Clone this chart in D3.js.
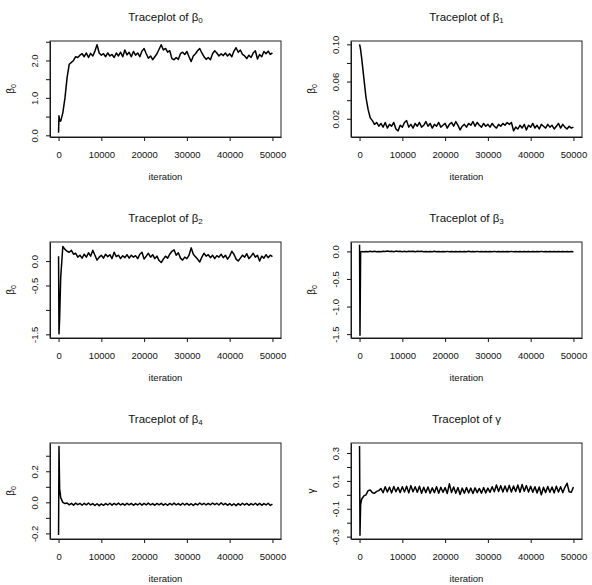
<!DOCTYPE html>
<html>
<head>
<meta charset="utf-8">
<script src="https://cdn.jsdelivr.net/npm/d3@7"></script>
<style>
body { margin: 0; background: #fff; }
svg { display: block; font-family: 'Liberation Sans', Arial, Helvetica, sans-serif; }
</style>
</head>
<body>
<svg id="chart" width="592" height="585"></svg>
<script>
// MCMC iteration index, coarse grid.
var iterations = [0, 100, 250,
    500, 1000, 1500, 2000, 2500, 3000, 3500, 4000, 4500, 5000,
    5500, 6000, 6500, 7000, 7500, 8000, 8500, 9000, 9500, 10000,
    10500, 11000, 11500, 12000, 12500, 13000, 13500, 14000, 14500, 15000,
    15500, 16000, 16500, 17000, 17500, 18000, 18500, 19000, 19500, 20000,
    20500, 21000, 21500, 22000, 22500, 23000, 23500, 24000, 24500, 25000,
    25500, 26000, 26500, 27000, 27500, 28000, 28500, 29000, 29500, 30000,
    30500, 31000, 31500, 32000, 32500, 33000, 33500, 34000, 34500, 35000,
    35500, 36000, 36500, 37000, 37500, 38000, 38500, 39000, 39500, 40000,
    40500, 41000, 41500, 42000, 42500, 43000, 43500, 44000, 44500, 45000,
    45500, 46000, 46500, 47000, 47500, 48000, 48500, 49000, 49500, 50000];

var beta0 = [0.07, 0.52, 0.40,
    0.38, 0.60, 1.00, 1.55, 1.90, 1.95, 2.00, 2.10, 2.08, 2.14,
    2.18, 2.10, 2.20, 2.08, 2.19, 2.12, 2.25, 2.42, 2.20, 2.14,
    2.18, 2.10, 2.20, 2.12, 2.16, 2.08, 2.20, 2.12, 2.22, 2.10,
    2.28, 2.15, 2.22, 2.10, 2.24, 2.14, 2.20, 2.10, 2.25, 2.32,
    2.18, 2.06, 2.12, 2.02, 2.10, 2.18, 2.30, 2.42, 2.28, 2.32,
    2.22, 2.26, 2.05, 2.02, 2.08, 2.03, 2.18, 2.22, 2.16, 2.24,
    2.10, 1.97, 2.12, 2.18, 2.26, 2.32, 2.20, 2.10, 2.03, 2.08,
    2.02, 2.18, 2.26, 2.20, 2.12, 2.18, 2.13, 2.20, 2.12, 2.18,
    2.10, 2.25, 2.34, 2.22, 2.28, 2.16, 2.12, 2.05, 2.14, 2.08,
    2.20, 2.26, 2.04, 2.16, 2.10, 2.24, 2.18, 2.25, 2.16, 2.20];

var beta1 = [0.100, 0.098, 0.094,
    0.085, 0.064, 0.043, 0.030, 0.021, 0.018, 0.014, 0.016, 0.012, 0.015,
    0.011, 0.016, 0.010, 0.014, 0.012, 0.016, 0.009, 0.007, 0.013, 0.011,
    0.016, 0.018, 0.011, 0.014, 0.010, 0.015, 0.012, 0.016, 0.011, 0.013,
    0.017, 0.012, 0.015, 0.010, 0.014, 0.012, 0.016, 0.011, 0.013, 0.015,
    0.010, 0.014, 0.016, 0.012, 0.017, 0.013, 0.008, 0.012, 0.014, 0.011,
    0.015, 0.013, 0.017, 0.012, 0.016, 0.013, 0.011, 0.015, 0.012, 0.014,
    0.011, 0.015, 0.012, 0.010, 0.014, 0.012, 0.015, 0.013, 0.016, 0.014,
    0.016, 0.007, 0.011, 0.009, 0.013, 0.010, 0.014, 0.008, 0.013, 0.011,
    0.015, 0.010, 0.013, 0.009, 0.014, 0.012, 0.010, 0.014, 0.011, 0.013,
    0.009, 0.012, 0.015, 0.010, 0.014, 0.011, 0.009, 0.012, 0.010, 0.011];

var beta2 = [0.10, -1.49, -1.18,
    -0.34, 0.30, 0.24, 0.20, 0.18, 0.22, 0.14, 0.16, 0.08, 0.12,
    0.06, 0.14, 0.08, 0.17, 0.10, 0.22, 0.12, 0.02, 0.08, 0.12,
    0.06, 0.14, 0.09, 0.13, 0.05, 0.18, 0.09, 0.12, 0.05, 0.11,
    0.07, 0.13, 0.06, 0.12, 0.08, 0.11, 0.05, 0.14, 0.18, 0.04,
    0.10, 0.16, 0.08, 0.13, 0.05, 0.10, 0.01, -0.03, 0.04, 0.10,
    0.06, 0.14, 0.20, 0.23, 0.12, 0.17, 0.06, 0.02, 0.08, 0.05,
    0.12, 0.27, 0.14, 0.09, 0.04, -0.02, 0.08, 0.16, 0.10, 0.13,
    0.07, 0.12, 0.05, 0.11, 0.08, 0.14, 0.07, 0.12, 0.04, 0.10,
    0.20, 0.14, 0.04, 0.00, 0.06, 0.12, 0.08, 0.15, 0.05, 0.10,
    0.16, 0.08, 0.12, 0.00, 0.10, 0.06, 0.13, 0.07, 0.12, 0.09];

var beta3 = [0.12, -1.52, -0.01,
    -0.004, -0.008, -0.002, -0.006, 0.002, -0.005, 0.004, -0.006, -0.001, -0.007,
    0.003, -0.004, 0.006, -0.003, 0.002, -0.006, 0.005, -0.002, 0.004, -0.005,
    0.002, -0.006, 0.004, -0.003, 0.003, -0.007, 0.001, -0.004, 0.002, -0.006,
    -0.001, -0.007, -0.002, -0.005, 0.001, -0.006, -0.002, -0.008, -0.003, -0.006,
    0.000, -0.005, -0.002, -0.007, -0.001, -0.006, -0.003, -0.008, -0.002, -0.005,
    0.001, -0.006, -0.002, -0.007, 0.000, -0.005, -0.003, -0.008, -0.001, -0.006,
    -0.002, -0.007, 0.000, -0.005, -0.003, -0.008, -0.001, -0.006, -0.002, -0.007,
    0.000, -0.005, -0.002, -0.007, -0.001, -0.006, -0.003, -0.008, -0.002, -0.005,
    -0.001, -0.006, -0.003, -0.008, 0.000, -0.005, -0.002, -0.007, -0.003, -0.006,
    -0.002, -0.007, -0.001, -0.006, -0.003, -0.008, -0.002, -0.005, -0.003, -0.006];

var beta4 = [-0.21, 0.36, 0.09,
    0.030, 0.000, -0.008, -0.004, -0.016, -0.006, -0.018, -0.005, -0.015, -0.007,
    -0.019, -0.006, -0.016, -0.004, -0.017, -0.008, -0.020, -0.009, -0.021, -0.010,
    -0.019, -0.008, -0.017, -0.006, -0.018, -0.007, -0.016, -0.005, -0.017, -0.008,
    -0.018, -0.006, -0.016, -0.007, -0.019, -0.008, -0.017, -0.006, -0.018, -0.007,
    -0.016, -0.005, -0.017, -0.008, -0.019, -0.007, -0.016, -0.006, -0.018, -0.009,
    -0.019, -0.007, -0.017, -0.005, -0.016, -0.008, -0.018, -0.006, -0.017, -0.007,
    -0.018, -0.009, -0.020, -0.008, -0.017, -0.004, -0.015, -0.006, -0.017, -0.007,
    -0.016, -0.004, -0.015, -0.006, -0.017, -0.003, -0.016, -0.007, -0.019, -0.008,
    -0.020, -0.009, -0.021, -0.008, -0.018, -0.006, -0.017, -0.007, -0.019, -0.008,
    -0.017, -0.006, -0.018, -0.007, -0.019, -0.008, -0.017, -0.006, -0.020, -0.012];

var gamma = [0.35, -0.29, -0.07,
    -0.030, -0.008, 0.000, 0.030, 0.035, 0.015, 0.012, 0.025, 0.030, 0.045,
    0.015, 0.058, 0.020, 0.055, 0.014, 0.060, 0.022, 0.054, 0.016, 0.058,
    0.020, 0.062, 0.014, 0.066, 0.022, 0.058, 0.018, 0.062, 0.012, 0.054,
    0.016, 0.056, 0.012, 0.050, 0.016, 0.058, 0.012, 0.054, 0.018, 0.052,
    0.010, 0.079, 0.016, 0.056, 0.012, 0.052, 0.002, 0.048, 0.012, 0.052,
    0.014, 0.048, 0.010, 0.050, 0.016, 0.046, 0.012, 0.052, 0.014, 0.048,
    0.018, 0.058, 0.022, 0.070, 0.024, 0.066, 0.020, 0.064, 0.022, 0.068,
    0.020, 0.064, 0.024, 0.070, 0.018, 0.074, 0.026, 0.066, 0.020, 0.062,
    0.018, 0.058, 0.014, 0.056, 0.000, 0.054, 0.016, 0.060, 0.018, 0.056,
    0.014, 0.062, 0.020, 0.058, 0.016, 0.054, 0.083, 0.022, 0.018, 0.056];

var xTicks = [0, 10000, 20000, 30000, 40000, 50000];

// y limits as R drew them (data range plus 4%).
var beta0Range = [-0.045, 2.52];
var beta1Range = [0.0004, 0.1036];
var beta2Range = [-1.575, 0.39];
var beta3Range = [-1.57, 0.17];
var beta4Range = [-0.236, 0.382];
var gammaRange = [-0.317, 0.372];

// R skips labels that would overlap, so some ticks stay blank.
var beta0Ticks = [0, 0.5, 1, 1.5, 2, 2.5];
var beta0Labels = ['0.0', '', '1.0', '', '2.0', ''];
var beta1Ticks = [0.02, 0.04, 0.06, 0.08, 0.10];
var beta1Labels = ['0.02', '', '0.06', '', '0.10'];
var beta2Ticks = [-1.5, -1.0, -0.5, 0.0];
var beta2Labels = ['-1.5', '', '-0.5', '0.0'];
var beta3Ticks = [-1.5, -1.0, -0.5, 0.0];
var beta3Labels = ['-1.5', '-1.0', '-0.5', '0.0'];
var beta4Ticks = [-0.2, -0.1, 0, 0.1, 0.2, 0.3];
var beta4Labels = ['-0.2', '', '0.0', '', '0.2', ''];
var gammaTicks = [-0.3, -0.2, -0.1, 0, 0.1, 0.2, 0.3];
var gammaLabels = ['-0.3', '', '-0.1', '', '0.1', '', '0.3'];

var panels = [
    { sym: 'β', sub: '0', ysym: 'β', ysub: '0', values: beta0, range: beta0Range, ticks: beta0Ticks, labels: beta0Labels },
    { sym: 'β', sub: '1', ysym: 'β', ysub: '0', values: beta1, range: beta1Range, ticks: beta1Ticks, labels: beta1Labels },
    { sym: 'β', sub: '2', ysym: 'β', ysub: '0', values: beta2, range: beta2Range, ticks: beta2Ticks, labels: beta2Labels },
    { sym: 'β', sub: '3', ysym: 'β', ysub: '0', values: beta3, range: beta3Range, ticks: beta3Ticks, labels: beta3Labels },
    { sym: 'β', sub: '4', ysym: 'β', ysub: '0', values: beta4, range: beta4Range, ticks: beta4Ticks, labels: beta4Labels },
    { sym: 'γ', sub: '', ysym: 'γ', ysub: '', values: gamma, range: gammaRange, ticks: gammaTicks, labels: gammaLabels }
];

function TracePanel(svg, col, row, spec) {
    this.spec = spec;
    this.width = 231;
    this.height = 96;
    this.ink = '#111';

    this.g = svg.append('g')
        .attr('transform',
                'translate(' + (50 + col * 301) + ',' + (41 + row * 201) + ')');

    var ext = d3.extent(iterations);
    var pad = (ext[1] - ext[0]) * 0.04;
    this.x = d3.scaleLinear().domain([ext[0] - pad, ext[1] + pad]).range([0, this.width]);
    this.y = d3.scaleLinear().domain(spec.range).range([this.height, 0]);

    this._drawTrace();
    this._drawAxes();
    this._drawLabels();
};

TracePanel.prototype._drawTrace = function() {
    var line = d3.line()
        .x(function(d, i) { return this.x(iterations[i]); }.bind(this))
        .y(function(d) { return this.y(d); }.bind(this));

    this.g.append('path')
        .datum(this.spec.values)
        .attr('fill', 'none')
        .attr('stroke', '#000')
        .attr('stroke-width', 1.5)
        .attr('stroke-linejoin', 'round')
        .attr('d', line);
};

TracePanel.prototype._drawAxes = function() {
    var labels = this.spec.labels;

    var gx = this.g.append('g')
        .attr('transform', 'translate(0,' + this.height + ')')
        .call(d3.axisBottom(this.x)
            .tickValues(xTicks)
            .tickFormat(d3.format('d'))
            .tickSize(4)
            .tickSizeOuter(0));
    gx.attr('font-size', 9.5).attr('font-family', null).attr('color', this.ink);
    gx.selectAll('.tick text').attr('y', 14);

    var gy = this.g.append('g')
        .call(d3.axisLeft(this.y)
            .tickValues(this.spec.ticks)
            .tickFormat(function(d, i) { return labels[i]; })
            .tickSize(4)
            .tickSizeOuter(0));
    gy.attr('font-size', 9.5).attr('font-family', null).attr('color', this.ink);
    gy.selectAll('.tick text')
        .attr('x', null)
        .attr('dy', null)
        .attr('text-anchor', 'middle')
        .attr('transform', 'translate(-12,0) rotate(-90)');

    // Box.
    this.g.append('rect')
        .attr('width', this.width)
        .attr('height', this.height)
        .attr('fill', 'none')
        .attr('stroke', '#222')
        .attr('stroke-width', 1);
};

TracePanel.prototype._drawLabels = function() {
    var title = this.g.append('text')
        .attr('x', this.width / 2)
        .attr('y', -20)
        .attr('text-anchor', 'middle')
        .attr('font-size', 11.5)
        .attr('fill', this.ink);
    title.append('tspan').text('Traceplot of ' + this.spec.sym);
    if(this.spec.sub)
        title.append('tspan').attr('font-size', 8).attr('dy', '0.3em').text(this.spec.sub);

    this.g.append('text')
        .attr('x', this.width / 2)
        .attr('y', this.height + 43)
        .attr('text-anchor', 'middle')
        .attr('font-size', 9.5)
        .attr('fill', this.ink)
        .text('iteration');

    var ylab = this.g.append('text')
        .attr('transform', 'translate(-36,' + (this.height / 2) + ') rotate(-90)')
        .attr('text-anchor', 'middle')
        .attr('font-size', 10)
        .attr('fill', this.ink);
    ylab.append('tspan').text(this.spec.ysym);
    if(this.spec.ysub)
        ylab.append('tspan').attr('font-size', 7).attr('dy', '0.3em').text(this.spec.ysub);
};

var svg = d3.select('#chart');
svg.append('rect')
    .attr('width', 592)
    .attr('height', 585)
    .attr('fill', '#fff');

panels.forEach(function(spec, i) {
    new TracePanel(svg, i % 2, Math.floor(i / 2), spec);
});
</script>
</body>
</html>
